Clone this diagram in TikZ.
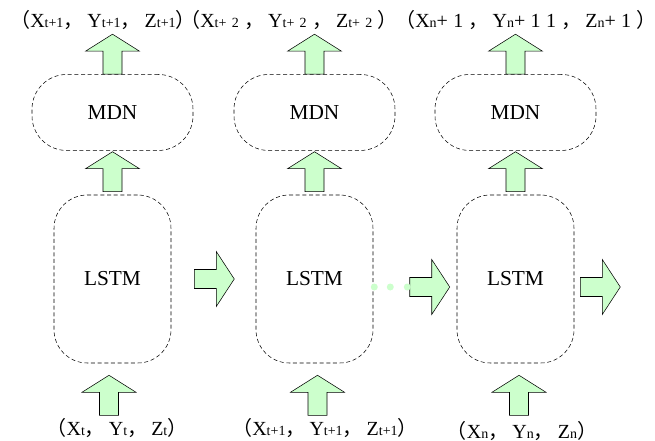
\documentclass[tikz,border=0pt]{standalone}
\usepackage{fontspec}
\setmainfont{Liberation Serif}
\newfontfamily\cjk{Noto Sans CJK SC}
\usetikzlibrary{positioning, calc}
\definecolor{arrgreen}{HTML}{CCFFCC}
\newcommand{\ix}[1]{{\fontsize{10.5}{12}\selectfont #1}}
\newcommand{\lpar}{{\cjk （}}
\newcommand{\rpar}{{\cjk ）}}
\newcommand{\lcomma}{{\cjk ，}\hspace{3pt}}

\begin{document}
\begin{tikzpicture}[
  x=0.75pt, y=-0.75pt,
  font=\fontsize{16}{18}\selectfont,
  cell/.style={draw, dash pattern=on 3pt off 2pt, inner sep=0pt},
  lstmbox/.style={cell, minimum width=87.75pt, minimum height=126pt,
                  rounded corners=25pt},
  mdnbox/.style={cell, minimum width=120.75pt, minimum height=57pt,
                 rounded corners=26pt},
  lbl/.style={font=\fontsize{15}{17}\selectfont, inner sep=0pt},
  uparr/.pic={\draw[fill=arrgreen] (0,0) -- (27,17) -- (9.5,17) -- (9.5,40)
    -- (-9.5,40) -- (-9.5,17) -- (-27,17) -- cycle;},
  rarr/.pic={\draw[fill=arrgreen] (0,0) -- (-18,-27.5) -- (-18,-9.5)
    -- (-40,-9.5) -- (-40,9.5) -- (-18,9.5) -- (-18,27.5) -- cycle;}
]
\useasboundingbox (0,0) rectangle (655,441);

\node[lstmbox] (lstm1) at (112.5,279) {LSTM};
\node[lstmbox] (lstm2) at (314.5,279) {LSTM};
\node[lstmbox] (lstm3) at (515.5,279) {LSTM};
\node[mdnbox, above=33pt of lstm1] (mdn1) {MDN};
\node[mdnbox, above=33pt of lstm2] (mdn2) {MDN};
\node[mdnbox, above=33pt of lstm3] (mdn3) {MDN};

\node[lbl, anchor=base west] (out1) at (10,28)
  {\lpar X\ix{t+1}\lcomma Y\ix{t+1}\lcomma Z\ix{t+1}\rpar};
\node[lbl, anchor=base west] (out2) at (180,28)
  {\lpar X\ix{t+\hspace{4pt}2\hspace{4pt}}\lcomma
   Y\ix{t+\hspace{4pt}2\hspace{4pt}}\lcomma
   Z\ix{t+\hspace{4pt}2\hspace{4pt}}\rpar};
\node[lbl, anchor=base west] (out3) at (395,28)
  {\lpar X\ix{n}+\hspace{4pt}1\hspace{4pt}\lcomma
   Y\ix{n}+\hspace{4pt}1\hspace{4pt}1\hspace{4pt}\lcomma
   Z\ix{n}+\hspace{4pt}1\hspace{4pt}\rpar};
\node[lbl, anchor=base] (in1) at (117,435)
  {\lpar X\ix{t}\lcomma Y\ix{t}\lcomma Z\ix{t}\rpar};
\node[lbl, anchor=base] (in2) at (325,435)
  {\lpar X\ix{t+1}\lcomma Y\ix{t+1}\lcomma Z\ix{t+1}\rpar};
\node[lbl, anchor=base] (in3) at (522,438)
  {\lpar X\ix{n}\lcomma Y\ix{n}\lcomma Z\ix{n}\rpar};

\foreach \i in {1,2,3} {
  \pic at ($(mdn\i.north)+(0,-40)$) {uparr};
  \pic at ($(lstm\i.north)+(0,-43)$) {uparr};
}
\pic at ($(lstm1.south)+(-3.5,12)$) {uparr};
\pic at ($(lstm2.south)+(3,12)$) {uparr};
\pic at ($(lstm3.south)+(3.5,12)$) {uparr};

\pic at ($(lstm1.east)+(63,0)$) {rarr};
\pic at ($(lstm3.west)+(-7,8)$) {rarr};
\pic at ($(lstm3.east)+(46,8)$) {rarr};
\foreach \dx in {1,17,34}
  \fill[arrgreen] ($(lstm2.east)+(\dx,8)$) circle[radius=3.5];
\end{tikzpicture}
\end{document}
